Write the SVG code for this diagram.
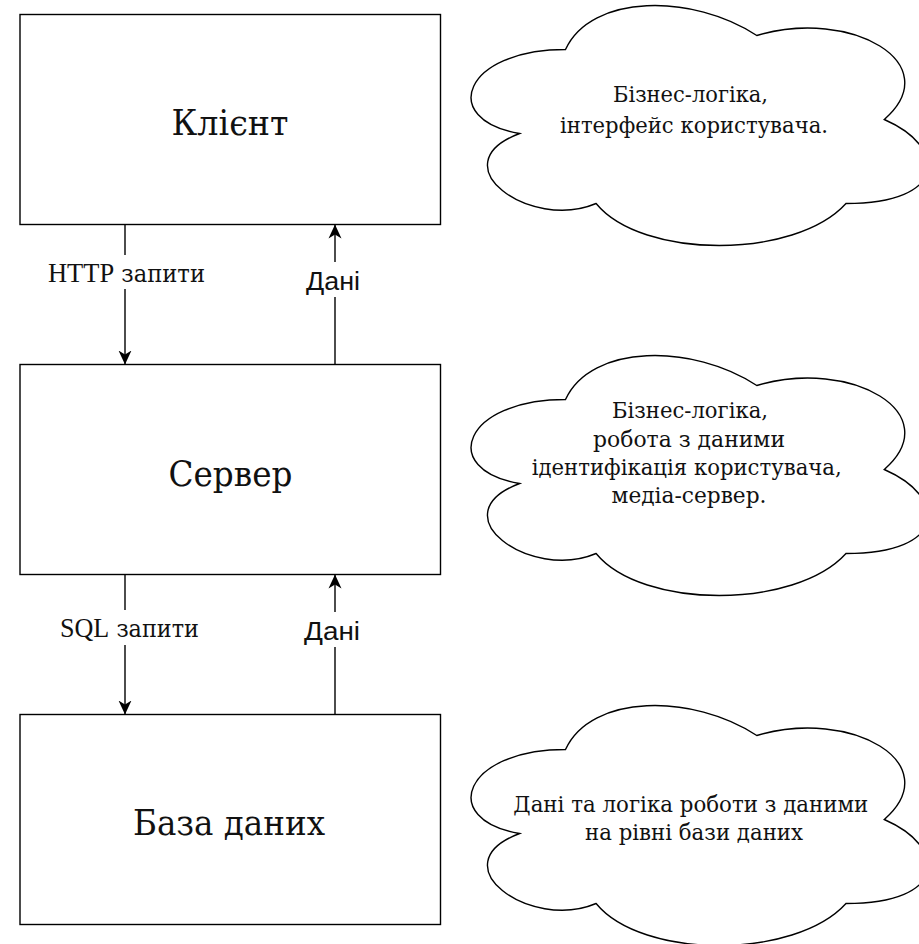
<svg xmlns="http://www.w3.org/2000/svg" width="919" height="944" viewBox="0 0 919 944">
<style>
.box{fill:#fff;stroke:#000;stroke-width:1.4}
.cloud{fill:#fff;stroke:#000;stroke-width:1.4}
text{font-family:"DejaVu Serif","Liberation Serif","Noto Serif",serif;fill:#111;text-anchor:middle}
.big{font-size:36px}
.ct{font-size:22px}
.lbl{font-size:24px}
.lbls{font-family:"Liberation Sans",Arial,sans-serif;font-size:26px}
.edge{fill:none;stroke:#000;stroke-width:1.4}
.bg{fill:#fff}
</style>
<defs>
<marker id="arr" markerUnits="userSpaceOnUse" markerWidth="16" markerHeight="14" refX="14" refY="7" orient="auto">
<path d="M0,0.5 L14,7 L0,13.5 L4,7 Z" fill="#000"/>
</marker>
<path id="cloudShape" d="M565.5,49.5 C463.5,49.5 438,119.5 519.6,133.5 C438,164.3 529.8,231.5 596.1,203.5 C642,259.5 795,259.5 846,203.5 C948,203.5 948,147.5 884.3,119.5 C948,63.5 851.1,7.5 756.8,35.5 C693,-6.5 591,-6.5 565.5,49.5 Z"/>
</defs>
<rect width="919" height="944" fill="#fff"/>
<g id="connectors">
<line class="edge" x1="125" y1="224.5" x2="125" y2="364.5" marker-end="url(#arr)"/>
<line class="edge" x1="335" y1="364.5" x2="335" y2="224.5" marker-end="url(#arr)"/>
<line class="edge" x1="125" y1="574.5" x2="125" y2="714.5" marker-end="url(#arr)"/>
<line class="edge" x1="335" y1="714.5" x2="335" y2="574.5" marker-end="url(#arr)"/>
<rect class="bg" x="46" y="255" width="162" height="34"/>
<text class="lbl" x="126.5" y="281.5" textLength="157" lengthAdjust="spacingAndGlyphs"><tspan font-family="Liberation Serif" font-size="28">HTTP</tspan> запити</text>
<rect class="bg" x="303" y="262" width="60" height="35"/>
<text class="lbls" x="333" y="290" textLength="54" lengthAdjust="spacingAndGlyphs">Дані</text>
<rect class="bg" x="57" y="610" width="146" height="35"/>
<text class="lbl" x="129.5" y="637" textLength="139" lengthAdjust="spacingAndGlyphs"><tspan font-family="Liberation Serif" font-size="28">SQL</tspan> запити</text>
<rect class="bg" x="302" y="612" width="60" height="35"/>
<text class="lbls" x="332" y="640" textLength="56" lengthAdjust="spacingAndGlyphs">Дані</text>
</g>
<g id="client">
<rect class="box" x="20" y="14.5" width="420.5" height="210"/>
<text class="big" x="230" y="135" textLength="117" lengthAdjust="spacingAndGlyphs">Клієнт</text>
</g>
<g id="server">
<rect class="box" x="20" y="364.5" width="420.5" height="210"/>
<text class="big" x="230.5" y="486" textLength="124" lengthAdjust="spacingAndGlyphs">Сервер</text>
</g>
<g id="database">
<rect class="box" x="20" y="714.5" width="420.5" height="210"/>
<text class="big" x="229" y="835" textLength="192" lengthAdjust="spacingAndGlyphs">База даних</text>
</g>
<g id="cloud-client">
<use href="#cloudShape" class="cloud"/>
<text class="ct" x="690.5" y="101.5" textLength="155" lengthAdjust="spacingAndGlyphs">Бізнес-логіка,</text>
<text class="ct" x="694" y="132.5" textLength="268" lengthAdjust="spacingAndGlyphs">інтерфейс користувача.</text>
</g>
<g id="cloud-server">
<use href="#cloudShape" class="cloud" transform="translate(0,350)"/>
<text class="ct" x="690" y="418" textLength="156" lengthAdjust="spacingAndGlyphs">Бізнес-логіка,</text>
<text class="ct" x="689" y="446.5" textLength="192" lengthAdjust="spacingAndGlyphs">робота з даними</text>
<text class="ct" x="686.7" y="475" textLength="310" lengthAdjust="spacingAndGlyphs">ідентифікація користувача,</text>
<text class="ct" x="689" y="503" textLength="155" lengthAdjust="spacingAndGlyphs">медіа-сервер.</text>
</g>
<g id="cloud-database">
<use href="#cloudShape" class="cloud" transform="translate(0,700)"/>
<text class="ct" x="690.8" y="811.5" textLength="355" lengthAdjust="spacingAndGlyphs">Дані та логіка роботи з даними</text>
<text class="ct" x="694" y="840" textLength="218" lengthAdjust="spacingAndGlyphs">на рівні бази даних</text>
</g>
</svg>
